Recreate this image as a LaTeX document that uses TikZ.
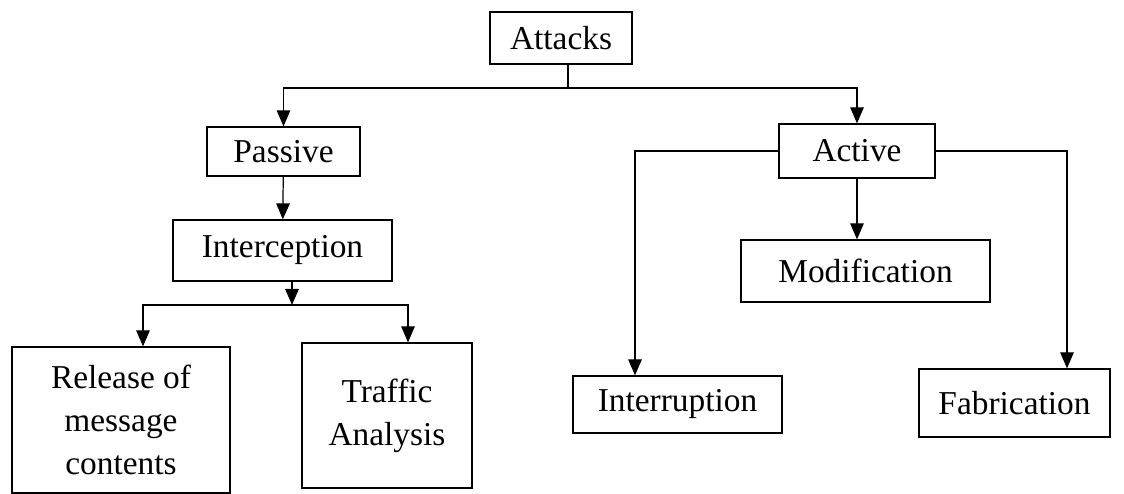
\documentclass[tikz,border=0pt]{standalone}
\usepackage{fontspec}
\setmainfont{Liberation Serif}
\usetikzlibrary{arrows.meta,calc}
\tikzset{
	box/.style={draw, line width=0.7pt, inner sep=0pt, align=center, font=\fontsize{19}{24.5}\selectfont},
	tip/.style={-{Triangle[length=0.32cm,width=0.27cm]}}
}

\begin{document}
\begin{tikzpicture}[line width=0.7pt]

	\useasboundingbox (0,0) rectangle (22.48,9.88);

	\node[box,minimum width=2.84cm,minimum height=1.04cm] 	(attacks)      at (11.22,9.12)	{Attacks};
	\node[box,minimum width=3.06cm,minimum height=0.98cm] 	(passive)      at (5.67,6.85)	{Passive};
	\node[box,minimum width=4.38cm,minimum height=1.22cm] 	(interception) at (5.65,4.87)	{Interception};
	\node[box,minimum width=4.36cm,minimum height=2.92cm] 	(release)      at (2.42,1.48)	{Release of\\message\\contents};
	\node[box,minimum width=3.40cm,minimum height=2.90cm] 	(traffic)      at (7.74,1.57)	{Traffic\\Analysis};

	\node[box,minimum width=3.12cm,minimum height=1.08cm] 	(active)       at (17.14,6.86)	{Active};
	\node[box,minimum width=4.98cm,minimum height=1.24cm] 	(modification) at (17.31,4.46)	{Modification};
	\node[box,minimum width=4.18cm,minimum height=1.14cm] 	(interruption) at (13.55,1.79)	{Interruption};
	\node[box,minimum width=3.82cm,minimum height=1.36cm] 	(fabrication)  at (20.29,1.82)	{Fabrication};

	% top split
	\coordinate (topbus) at (11.36,8.12);
	\draw (attacks.south -| topbus) -- (topbus);
	\draw[tip] (topbus) -| (passive.north);
	\draw[tip] (topbus) -| (active.north);

	% passive side
	\draw[tip] (passive) -- (interception);
	\coordinate (lowbus) at (5.84,3.78);
	\draw[tip] (interception.south -| lowbus) -- (lowbus);
	\draw[tip] (lowbus) -| ([xshift=0.44cm]release.north);
	\draw[tip] (lowbus) -| ([xshift=0.42cm]traffic.north);

	% active side
	\draw[tip] (active.west) -| ([xshift=-0.85cm]interruption.north);
	\draw[tip] (active.east) -| ([xshift=1.05cm]fabrication.north);
	\draw[tip] (active) -- (active |- modification.north);

\end{tikzpicture}
\end{document}
